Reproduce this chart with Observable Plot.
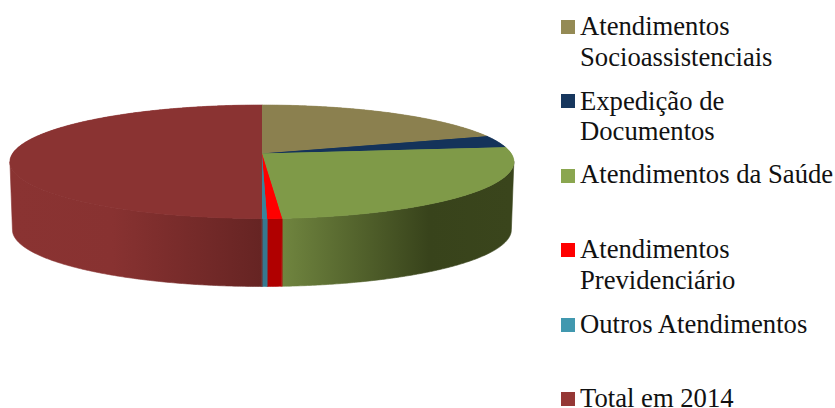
<!DOCTYPE html>
<html lang="pt">
<head>
<meta charset="utf-8">
<script src="https://cdn.jsdelivr.net/npm/d3@7"></script>
<script src="https://cdn.jsdelivr.net/npm/@observablehq/plot@0.6"></script>
<style>
  html, body { margin: 0; padding: 0; background: #fff; overflow: hidden; }
  #wrap { position: relative; width: 835px; height: 408px; overflow: hidden; }
  #wrap svg { position: absolute; left: 0; top: 0; display: block; }
  .line { position: absolute; left: 580px; font: 26.67px/20px "Liberation Serif", serif; color: #111; white-space: nowrap; }
  .swatch { position: absolute; left: 561px; width: 14px; height: 14px; }
</style>
</head>
<body>
<div id="wrap"></div>
<script>
const categories = ["Atendimentos Socioassistenciais", "Expedição de Documentos", "Atendimentos da Saúde", "Atendimentos Previdenciário", "Outros Atendimentos", "Total em 2014"];
const legendLines = [["Atendimentos", "Socioassistenciais"], ["Expedição de", "Documentos"], ["Atendimentos da Saúde"], ["Atendimentos", "Previdenciário"], ["Outros Atendimentos"], ["Total em 2014"]];
const values = [19.75, 3.45, 25.7, 0.82, 0.28, 50];
const topColors = ["#8b804f", "#14335a", "#7f9a48", "#ff0000", "#38849b", "#8a3332"];
const swatchColors = ["#948a54", "#17375e", "#8aa64f", "#ff0000", "#4198af", "#953735"];
const sideStops = [
  [[-1, "#8b804f"], [1, "#8b804f"]],
  [[-1, "#14335a"], [1, "#14335a"]],
  [[0.08, "#70853f"], [0.67, "#38431b"], [1, "#3a451c"]],
  [[-1, "#b00000"], [1, "#b00000"]],
  [[-1, "#36788f"], [1, "#36788f"]],
  [[-1, "#8a3332"], [-0.6, "#883231"], [0, "#662423"]]
];
const legendBaselines = [[35, 66], [110, 140], [183], [258, 289], [333], [406.5]];
const swatchTops = [20, 94, 169, 243, 318, 392];

const tilt = 0.1454, thickness = 1.224, taper = 0.99, stepDeg = 0.5;
const rad = d => d * Math.PI / 180;
const project = deg => {
  const u = Math.sin(rad(deg)), v = Math.cos(rad(deg)), w = 1 + tilt * v;
  return [u / w, v / w];
};
const total = d3.sum(values);
const edges = Array.from(d3.cumsum(values, d => d * 360 / total));
const starts = values.map((_, i) => i ? edges[i - 1] : 0);
const silhouette = Math.acos(-tilt) * 180 / Math.PI;

const faces = [], wallMarks = [];
const gradientMark = (index, { x }) => {
  const defs = d3.create("svg:defs");
  sideStops.forEach((stops, i) => {
    const g = defs.append("linearGradient").attr("id", "wall" + i)
      .attr("gradientUnits", "userSpaceOnUse")
      .attr("x1", x(stops[0][0])).attr("x2", x(stops[stops.length - 1][0]))
      .attr("y1", 0).attr("y2", 0);
    const lo = stops[0][0], hi = stops[stops.length - 1][0];
    stops.forEach(([p, c]) => g.append("stop").attr("offset", (p - lo) / (hi - lo)).attr("stop-color", c));
  });
  return defs.node();
};

categories.forEach((name, i) => {
  faces.push({ id: "t" + i, color: topColors[i], x: 0, y: 0 });
  for (const a of d3.range(starts[i], edges[i], stepDeg).concat(edges[i])) {
    const [x, y] = project(a);
    faces.push({ id: "t" + i, color: topColors[i], x, y });
  }
  const from = Math.max(starts[i], silhouette), to = Math.min(edges[i], 360 - silhouette);
  if (from >= to) return;
  const angles = d3.range(from, to, stepDeg).concat(to);
  const rim = angles.map(project);
  const wall = [
    ...rim.map(([x, y]) => ({ x, y })),
    ...rim.slice().reverse().map(([x, y]) => ({ x: x * taper, y: y - thickness }))
  ];
  wallMarks.push(Plot.line(wall, { x: "x", y: "y", fill: `url(#wall${i})`, stroke: `url(#wall${i})`, strokeWidth: 0.6, curve: "linear-closed" }));
});

const chart = Plot.plot({
  width: 835, height: 408, margin: 0,
  style: { background: "transparent" },
  x: { domain: [-1, 1], range: [12.1, 510.7], axis: null },
  y: { domain: [-1, 1], range: [208.55, 97.45], axis: null },
  marks: [
    gradientMark,
    ...wallMarks,
    Plot.line(faces, { x: "x", y: "y", z: "id", fill: "color", stroke: "color", strokeWidth: 0.6, curve: "linear-closed" }),
    Plot.line(faces, { x: "x", y: "y", z: "id", fill: "color", stroke: "none", curve: "linear-closed" })
  ]
});
const wrap = document.getElementById("wrap");
wrap.appendChild(chart);

legendLines.forEach((lines, i) => {
  const sw = document.createElement("div");
  sw.className = "swatch";
  sw.style.top = swatchTops[i] + "px";
  sw.style.background = swatchColors[i];
  wrap.appendChild(sw);
  lines.forEach((t, j) => {
    const s = document.createElement("div");
    s.className = "line";
    s.textContent = t;
    s.style.top = (legendBaselines[i][j] - 19) + "px";
    wrap.appendChild(s);
  });
});
</script>
</body>
</html>
